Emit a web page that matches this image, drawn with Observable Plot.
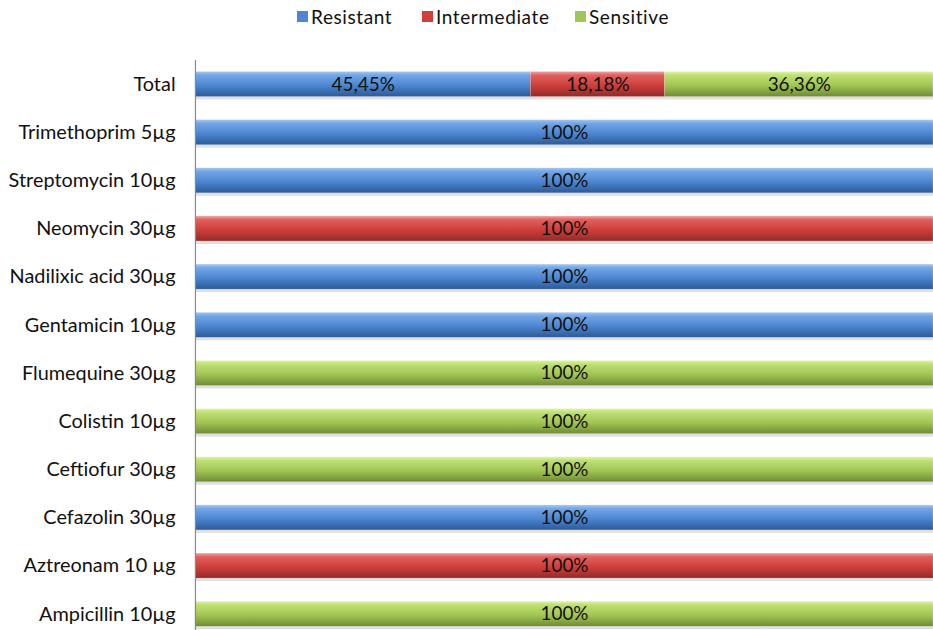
<!DOCTYPE html>
<html>
<head>
<meta charset="utf-8">
<script src="https://cdn.jsdelivr.net/npm/d3@7"></script>
<script src="https://cdn.jsdelivr.net/npm/@observablehq/plot@0.6"></script>
<style>
  html, body { margin: 0; padding: 0; background: #fff; overflow: hidden; }
  body { width: 933px; height: 630px; font-family: Lato, "Open Sans", sans-serif; position: relative; }
  #legend { position: absolute; left: 0; top: 0; width: 933px; height: 40px; }
  .item { position: absolute; top: 5px; font-size: 19px; letter-spacing: 0.6px; color: #111; display: flex; align-items: center; white-space: nowrap; }
  .sw { width: 11px; height: 11px; margin-right: 3px; box-sizing: border-box; }
  #chart { position: absolute; left: 0; top: 40px; }
  #chart svg { display: block; }
</style>
</head>
<body>
<div id="legend"></div>
<div id="chart"></div>
<script>
const categories = ["Total", "Trimethoprim 5µg", "Streptomycin 10µg", "Neomycin 30µg", "Nadilixic acid 30µg", "Gentamicin 10µg", "Flumequine 30µg", "Colistin 10µg", "Ceftiofur 30µg", "Cefazolin 30µg", "Aztreonam 10 µg", "Ampicillin 10µg"];
const statuses = ["Resistant", "Intermediate", "Sensitive"];
const resistant    = [45.45, 100, 100, 0, 100, 100, 0, 0, 0, 100, 0, 0];
const intermediate = [18.18, 0, 0, 100, 0, 0, 0, 0, 0, 0, 100, 0];
const sensitive    = [36.36, 0, 0, 0, 0, 0, 100, 100, 100, 0, 0, 100];

const seriesValues = [resistant, intermediate, sensitive];
const rows = [];
categories.forEach((c, i) => {
  statuses.forEach((s, j) => {
    const v = seriesValues[j][i];
    if (v > 0) rows.push({cat: c, status: s, value: v,
      label: (v === 100 ? "100" : v.toFixed(2).replace(".", ",")) + "%"});
  });
});

const fills = ["url(#gR)", "url(#gI)", "url(#gS)"];

const plot = Plot.plot({
  width: 938,
  height: 604,
  marginTop: 20,
  marginBottom: 3,
  marginLeft: 196,
  marginRight: 0,
  style: {fontFamily: "Lato, 'Open Sans', sans-serif", fontSize: "20px", color: "#111", overflow: "visible"},
  x: {domain: [0, 100], axis: null},
  y: {domain: categories, paddingInner: 0.48, paddingOuter: 0.24, round: false, label: null, tickSize: 0, tickPadding: 20},
  color: {domain: statuses, range: fills},
  marks: [
    Plot.barX(rows, Plot.stackX({x: "value", y: "cat", z: "status", order: statuses, fill: "#000", fillOpacity: 0.12, dy: 3})),
    Plot.barX(rows, Plot.stackX({x: "value", y: "cat", z: "status", order: statuses, fill: "status", stroke: "#fff", strokeOpacity: 0.35, strokeWidth: 0.5})),
    Plot.textX(rows, Plot.stackX({x: "value", y: "cat", z: "status", order: statuses, text: "label", fill: "#111", fontSize: 19})),
    Plot.ruleX([0], {stroke: "#8a8a8a", strokeWidth: 1.2})
  ]
});

const defs = `
<linearGradient id="gR" x1="0" y1="0" x2="0" y2="1">
  <stop offset="0" stop-color="#a8c8f0"/><stop offset="0.15" stop-color="#72a6e6"/>
  <stop offset="0.55" stop-color="#4d86d2"/><stop offset="1" stop-color="#2c5a96"/>
</linearGradient>
<linearGradient id="gI" x1="0" y1="0" x2="0" y2="1">
  <stop offset="0" stop-color="#f0a6a4"/><stop offset="0.15" stop-color="#e0605d"/>
  <stop offset="0.55" stop-color="#cf3f3c"/><stop offset="1" stop-color="#922a28"/>
</linearGradient>
<linearGradient id="gS" x1="0" y1="0" x2="0" y2="1">
  <stop offset="0" stop-color="#def5a6"/><stop offset="0.15" stop-color="#bfe073"/>
  <stop offset="0.55" stop-color="#a2c655"/><stop offset="1" stop-color="#6e8c34"/>
</linearGradient>`;
d3.select(plot).insert("defs", ":first-child").html(defs);
document.getElementById("chart").appendChild(plot);

const legend = document.getElementById("legend");
const legendX = [297, 422, 575];
const swatchColors = ["#4d86d2", "#cf3f3c", "#a2c655"];
statuses.forEach((s, i) => {
  const d = document.createElement("div");
  d.className = "item";
  d.style.left = legendX[i] + "px";
  d.innerHTML = `<span class="sw" style="background:${swatchColors[i]}"></span><span>${s}</span>`;
  legend.appendChild(d);
});
</script>
</body>
</html>
